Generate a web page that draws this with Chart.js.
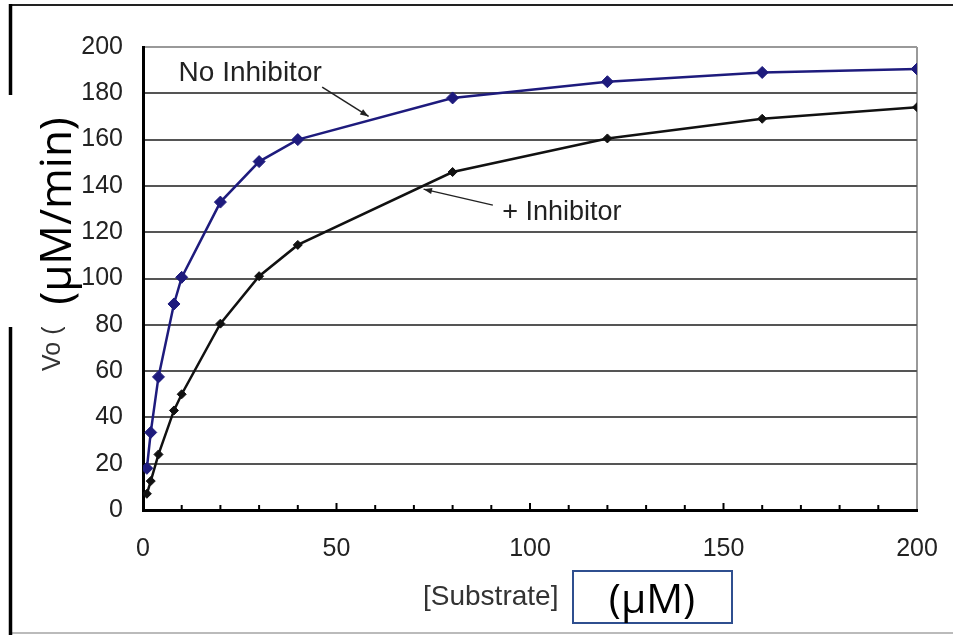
<!DOCTYPE html>
<html>
<head>
<meta charset="utf-8">
<script src="https://cdn.jsdelivr.net/npm/chart.js@4/dist/chart.umd.min.js"></script>
<style>
  body { margin: 0; background: #fff; }
  #wrap { width: 953px; height: 635px; }
</style>
</head>
<body>
<div id="wrap"><canvas id="chart" width="953" height="635"></canvas></div>
<script>
// values
const substrate = [1, 2, 4, 8, 10, 20, 30, 40, 80, 120, 160, 200];
const noInhibitor = [18, 33.5, 57.5, 89, 100.5, 133, 150.5, 160, 178, 185, 189, 190.5];
const withInhibitor = [7, 12.5, 24, 43, 50, 80.5, 101, 114.5, 146, 160.5, 169, 174];
const xTicks = [0, 50, 100, 150, 200];
const yTicks = [0, 20, 40, 60, 80, 100, 120, 140, 160, 180, 200];

const BLUE = '#1e1b7d';
const SANS = '"Liberation Sans", Arial, sans-serif';
const BIG = '"Open Sans", "Noto Sans", sans-serif';

function pts(ys) {
  return substrate.map(function(x, i) { return { x: x, y: ys[i] }; });
}

function arrow(ctx, x1, y1, x2, y2) {
  ctx.strokeStyle = '#222';
  ctx.fillStyle = '#222';
  ctx.lineWidth = 1.5;
  ctx.beginPath();
  ctx.moveTo(x1, y1);
  ctx.lineTo(x2, y2);
  ctx.stroke();
  var a = Math.atan2(y2 - y1, x2 - x1);
  ctx.beginPath();
  ctx.moveTo(x2, y2);
  ctx.lineTo(x2 - 9 * Math.cos(a - 0.35), y2 - 9 * Math.sin(a - 0.35));
  ctx.lineTo(x2 - 9 * Math.cos(a + 0.35), y2 - 9 * Math.sin(a + 0.35));
  ctx.closePath();
  ctx.fill();
}

const extras = {
  id: 'extras',
  beforeDraw: function(chart) {
    var ctx = chart.ctx;
    ctx.save();
    ctx.fillStyle = '#fff';
    ctx.fillRect(0, 0, chart.width, chart.height);
    ctx.restore();
  },
  afterDraw: function(chart) {
    var ctx = chart.ctx;
    var xs = chart.scales.x, ys = chart.scales.y;
    var X = function(v) { return xs.getPixelForValue(v); };
    var Y = function(v) { return ys.getPixelForValue(v); };
    ctx.save();

    // minor ticks on the x axis, pointing into the plot
    ctx.strokeStyle = '#000';
    ctx.lineWidth = 2;
    for (var v = 10; v < 200; v += 10) {
      var len = v % 50 === 0 ? 7 : 5;
      ctx.beginPath();
      ctx.moveTo(X(v), ys.bottom);
      ctx.lineTo(X(v), ys.bottom - len);
      ctx.stroke();
    }

    // outer frame of the screenshot
    ctx.strokeStyle = '#222';
    ctx.lineWidth = 2;
    ctx.beginPath(); ctx.moveTo(10, 5); ctx.lineTo(953, 5); ctx.stroke();
    ctx.strokeStyle = '#bbb';
    ctx.beginPath(); ctx.moveTo(10, 633); ctx.lineTo(953, 633); ctx.stroke();
    ctx.strokeStyle = '#000';
    ctx.lineWidth = 3.5;
    ctx.beginPath(); ctx.moveTo(10.5, 4); ctx.lineTo(10.5, 635); ctx.stroke();

    // small original y label, partly hidden
    ctx.fillStyle = '#333';
    ctx.font = '25px ' + SANS;
    ctx.save();
    ctx.translate(60, 371);
    ctx.rotate(-Math.PI / 2);
    ctx.textAlign = 'left';
    ctx.fillText('Vo (', 0, 0);
    ctx.restore();

    // white patch with the new y label
    ctx.fillStyle = '#fff';
    ctx.fillRect(0, 95, 78, 232);
    ctx.fillStyle = '#000';
    ctx.font = '44px ' + BIG;
    ctx.save();
    ctx.translate(71, 211);
    ctx.rotate(-Math.PI / 2);
    ctx.textAlign = 'center';
    ctx.fillText('(\u03bcM/min)', 0, 0);
    ctx.restore();

    // x title and boxed unit
    ctx.fillStyle = '#333';
    ctx.font = '28px ' + SANS;
    ctx.textAlign = 'left';
    ctx.fillText('[Substrate]', 423, 605);
    ctx.strokeStyle = '#2f4f8f';
    ctx.lineWidth = 2;
    ctx.strokeRect(573, 571, 159, 52);
    ctx.fillStyle = '#000';
    ctx.font = '41px ' + BIG;
    ctx.textAlign = 'center';
    ctx.fillText('(\u03bcM)', 652, 613);

    // series labels with arrows
    ctx.fillStyle = '#222';
    ctx.textAlign = 'left';
    ctx.font = '28px ' + SANS;
    ctx.fillText('No Inhibitor', X(9.2), Y(185.3));
    arrow(ctx, X(46.3), Y(182.7), X(58.3), Y(170));
    ctx.font = '27px ' + SANS;
    ctx.fillText('+ Inhibitor', X(92.8), Y(125.3));
    arrow(ctx, X(90.4), Y(131.7), X(72.5), Y(138.6));

    ctx.restore();
  }
};

new Chart(document.getElementById('chart'), {
  type: 'scatter',
  data: {
    datasets: [{
      label: 'No Inhibitor',
      data: pts(noInhibitor),
      showLine: true,
      borderColor: BLUE,
      backgroundColor: BLUE,
      borderWidth: 2.5,
      pointStyle: 'rectRot',
      pointRadius: 6,
      pointBorderWidth: 1
    }, {
      label: '+ Inhibitor',
      data: pts(withInhibitor),
      showLine: true,
      borderColor: '#111',
      backgroundColor: '#111',
      borderWidth: 2.5,
      pointStyle: 'rectRot',
      pointRadius: 4.5,
      pointBorderWidth: 1
    }]
  },
  options: {
    responsive: false,
    animation: false,
    layout: { padding: { top: 47, right: 36, left: 0, bottom: 0 } },
    plugins: { legend: { display: false }, tooltip: { enabled: false } },
    scales: {
      x: {
        type: 'linear',
        min: 0,
        max: 200,
        afterFit: function(s) { s.height = 125; s.paddingLeft = 0; s.paddingRight = 0; },
        afterBuildTicks: function(s) { s.ticks = xTicks.map(function(v) { return { value: v }; }); },
        grid: {
          drawTicks: false,
          lineWidth: 2,
          color: function(c) { return c.tick && c.tick.value === 200 ? '#999' : 'rgba(0,0,0,0)'; }
        },
        border: { color: '#000', width: 3 },
        ticks: { padding: 24, color: '#222', font: { family: SANS, size: 25 }, maxRotation: 0 }
      },
      y: {
        min: 0,
        max: 200,
        afterFit: function(s) { s.width = 143; s.paddingTop = 0; s.paddingBottom = 0; },
        afterBuildTicks: function(s) { s.ticks = yTicks.map(function(v) { return { value: v }; }); },
        grid: {
          drawTicks: false,
          lineWidth: 2,
          color: function(c) {
            if (!c.tick) return '#555';
            if (c.tick.value === 200) return '#999';
            if (c.tick.value === 0) return '#000';
            return '#555';
          }
        },
        border: { color: '#000', width: 3 },
        ticks: { padding: 20, color: '#222', font: { family: SANS, size: 25 } }
      }
    }
  },
  plugins: [extras]
});
</script>
</body>
</html>
